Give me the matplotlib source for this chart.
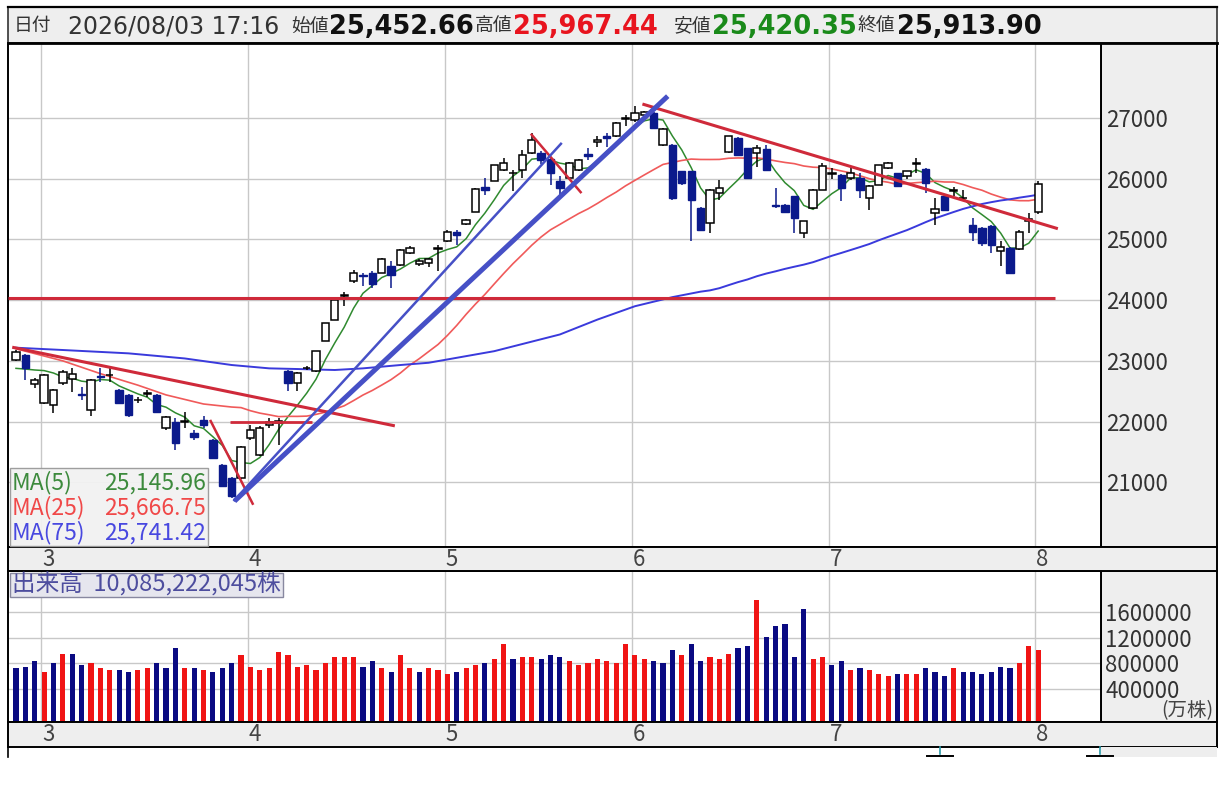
import matplotlib
matplotlib.use("Agg")
import matplotlib.pyplot as plt
from matplotlib.patches import Rectangle
import numpy as np
import pandas as pd

plt.rcParams['font.family'] = ['Noto Sans CJK JP', 'DejaVu Sans']

# ------------------------------------------------------------------ data
opens = [23020, 23100, 22615, 22300, 22275, 22630, 22700, 22460, 22190, 22755,
         22760, 22520, 22440, 22350, 22460, 22440, 21890, 22000, 21990, 21810,
         22030, 21700, 21290, 21070, 21070, 21726, 21453, 21946, 21970, 22832,
         22640, 22880, 22832, 23325, 23681, 24065, 24311, 24420, 24450, 24450,
         24560, 24585, 24780, 24590, 24610, 24840, 24970, 25120, 25260, 25460,
         25870, 25970, 26150, 26090, 26150, 26420, 26420, 26330, 25960, 26010,
         26147, 26400, 26600, 26710, 26696, 26990, 26970, 27050, 27080, 26560,
         26559, 26120, 26120, 25516, 25269, 25763, 26433, 26669, 26504, 26422,
         26488, 25560, 25570, 25708, 25105, 25516, 25818, 26080, 26065, 26010,
         26010, 25681, 25900, 26175, 26092, 26038, 26250, 26158, 25435, 25709,
         25790, 25680, 25243, 25188, 25216, 24805, 24860, 24843, 25298, 25452.66]
highs = [23180, 23120, 22715, 22790, 22530, 22850, 22880, 22575, 22700, 22875,
         22875, 22535, 22450, 22400, 22515, 22450, 22100, 22055, 22165, 21865,
         22085, 21710, 21300, 21080, 21600, 21945, 21920, 22055, 22055, 22850,
         22810, 22920, 23170, 23630, 24020, 24130, 24503, 24450, 24480, 24690,
         24640, 24840, 24900, 24680, 24700, 24910, 25150, 25150, 25340, 25840,
         26010, 26230, 26340, 26150, 26475, 26750, 26450, 26340, 26040, 26270,
         26330, 26500, 26700, 26750, 26930, 27050, 27190, 27120, 27100, 26840,
         26570, 26130, 26130, 25530, 25830, 25983, 26700, 26680, 26510, 26560,
         26560, 25845, 25580, 25720, 25300, 25830, 26260, 26180, 26080, 26200,
         26090, 25890, 26230, 26280, 26100, 26130, 26340, 26170, 25680, 25720,
         25870, 25820, 25353, 25200, 25230, 24969, 24870, 25160, 25435, 25967.44]
lows = [23000, 22690, 22550, 22290, 22140, 22600, 22495, 22360, 22085, 22660,
        22660, 22290, 22080, 22310, 22410, 22160, 21870, 21535, 21890, 21700,
        21890, 21390, 20930, 20740, 21050, 21700, 21440, 21890, 21617, 22500,
        22500, 22850, 22820, 23320, 23670, 23900, 24284, 24230, 24200, 24440,
        24200, 24570, 24760, 24570, 24540, 24476, 24950, 24910, 25240, 25450,
        25740, 25960, 26120, 25790, 26010, 26400, 26250, 25900, 25740, 25990,
        26130, 26310, 26530, 26530, 26690, 26860, 26940, 27030, 26830, 26540,
        25650, 25900, 24967, 25150, 25105, 25650, 26420, 26390, 26000, 26200,
        26140, 25520, 25450, 25105, 25022, 25500, 25810, 25990, 25627, 25980,
        25681, 25490, 25890, 26160, 25860, 26000, 26100, 25763, 25243, 25480,
        25710, 25650, 24969, 24887, 24777, 24558, 24430, 24830, 25106, 25420.35]
closes = [23150, 22877, 22685, 22768, 22521, 22822, 22778, 22440, 22685, 22740,
          22770, 22302, 22110, 22360, 22470, 22165, 22083, 21644, 22010, 21754,
          21946, 21398, 20932, 20767, 21589, 21863, 21891, 22000, 22010, 22640,
          22800, 22890, 23160, 23626, 24010, 24090, 24450, 24390, 24260, 24670,
          24420, 24830, 24860, 24650, 24680, 24860, 25120, 25080, 25325, 25830,
          25810, 26220, 26260, 26100, 26390, 26640, 26300, 26100, 25850, 26257,
          26312, 26370, 26640, 26670, 26916, 27000, 27080, 27100, 26834, 26820,
          25680, 25930, 25653, 25160, 25818, 25845, 26696, 26394, 26010, 26504,
          26147, 25550, 25460, 25352, 25296, 25818, 26202, 26100, 25846, 26100,
          25818, 25873, 26218, 26257, 25873, 26120, 26260, 25928, 25500, 25490,
          25818, 25680, 25117, 24942, 24914, 24870, 24449, 25117, 25340, 25913.90]
volumes = [735000, 745000, 838000, 673000, 807000, 946000, 946000, 776000, 807000, 735000,
           704000, 704000, 673000, 704000, 735000, 807000, 735000, 1038000, 735000, 735000,
           704000, 673000, 735000, 807000, 930000, 750000, 704000, 735000, 977000, 930000,
           750000, 776000, 704000, 807000, 899000, 899000, 899000, 750000, 838000, 735000,
           673000, 930000, 735000, 673000, 735000, 704000, 642000, 673000, 735000, 776000,
           807000, 868000, 1100000, 868000, 899000, 899000, 868000, 930000, 899000, 838000,
           776000, 807000, 868000, 838000, 807000, 1100000, 930000, 868000, 838000, 807000,
           1008000, 930000, 1100000, 838000, 899000, 868000, 946000, 1038000, 1069000, 1779000,
           1208000, 1378000, 1409000, 899000, 1641000, 868000, 899000, 776000, 838000, 704000,
           735000, 704000, 642000, 611000, 642000, 642000, 642000, 735000, 673000, 611000,
           735000, 673000, 673000, 642000, 673000, 745000, 735000, 807000, 1069000, 1008522]
prev_close = 23250            # close before the first visible bar

month_labels = ['3', '4', '5', '6', '7', '8']
month_start = [3, 25, 46, 66, 87, 109]
price_ticks = [21000, 22000, 23000, 24000, 25000, 26000, 27000]
vol_ticks = [400000, 800000, 1200000, 1600000]

header_date = '2026/08/03 17:16'
header_names = ['始値', '高値', '安値', '終値']
ma_names = ['MA(5)', 'MA(25)', 'MA(75)']
ma_label_values = [25145.96, 25666.75, 25741.42]
volume_shares = 10085222045

ma5_head = [22877, 22865, 22850, 22840]
ma25_head_idx = [0, 5, 9, 13, 16, 20, 23]
ma25_head_val = [23200, 23000, 22790, 22600, 22440, 22290, 22240]
ma75_head_idx = [0, 5, 12, 18, 23, 27, 30, 34, 37, 41, 44, 51, 58, 62, 66, 70, 73]
ma75_head_val = [23217, 23179, 23124, 23040, 22932, 22877, 22866, 22850, 22877,
                 22932, 22969, 23160, 23435, 23680, 23900, 24050, 24140]

# hand-drawn trend lines (bar index, price) -> (bar index, price)
red_lines = [(-0.4, 23225, 40.4, 21930),
             (22.8, 21990, 31.6, 21990),
             (20.7, 22028, 25.3, 20630),
             (54.9, 26740, 60.3, 25763),
             (66.8, 27230, 111.1, 25177),
             (-0.85, 24040, 110.8, 24040)]
blue_lines = [(23.2, 20690, 58.2, 26590),
              (23.3, 20690, 69.5, 27360)]

# ------------------------------------------------------------------ style
W, H = 1228, 787
red_widths = [2.2, 2.0, 1.8, 1.8, 2.2, 2.2]
blue_widths = [1.8, 3.6]
RED_T = '#cf2a3a'
BLUE_T = '#4650c6'
NAVY = '#0b1a8c'
VRED = '#f01414'
VNAVY = '#0a0a82'
GRID = '#c8c8c8'
PANEL = '#eeeeee'
hdr_label_x = [291, 475, 674, 858]
hdr_value_x = [329, 513, 712, 897]
hdr_value_col = ['#111111', '#e8141e', '#1a8a1a', '#111111']

n = len(closes)
x = np.arange(n)
O = np.array(opens); Hh = np.array(highs); L = np.array(lows); C = np.array(closes)
V = np.array(volumes)

fig = plt.figure(figsize=(W / 100, H / 100), dpi=100)
fig.patch.set_facecolor('white')


def fr(x0, y0, x1, y1):
    return [x0 / W, 1 - y1 / H, (x1 - x0) / W, (y1 - y0) / H]


XL = (-0.85, 115.7)
grid_x = [m - 0.3 for m in month_start]

# ------------------------------------------------------------------ price panel
ax = fig.add_axes(fr(8, 43, 1101, 547))
ax.set_xlim(*XL)
ax.set_ylim(19935, 28235)
for p in price_ticks:
    ax.axhline(p, color=GRID, lw=1.0, zorder=0)
for g in grid_x:
    ax.axvline(g, color=GRID, lw=1.0, zorder=0)

s = pd.Series(C)
ma5 = s.rolling(5).mean().to_numpy()
ma25 = s.rolling(25).mean().to_numpy()
ma75 = s.rolling(75).mean().to_numpy()
ax.plot(list(range(4)) + list(x[4:]), ma5_head + list(ma5[4:]), color='#2f8a2f', lw=1.1, zorder=2)
ax.plot(ma25_head_idx + list(x[24:]), ma25_head_val + list(ma25[24:]), color='#f05a5a', lw=1.2, zorder=2)
ax.plot(ma75_head_idx + list(x[74:]), ma75_head_val + list(ma75[74:]), color='#3a3adc', lw=1.4, zorder=2)

up = C >= O
dn = ~up
bw = 0.78
ax.vlines(x[up], L[up], Hh[up], color='black', lw=1.1, zorder=3)
ax.vlines(x[dn], L[dn], Hh[dn], color=NAVY, lw=1.1, zorder=3)
ax.bar(x[up], C[up] - O[up], bottom=O[up], width=bw, color='white', edgecolor='black', linewidth=1.1, zorder=4)
ax.bar(x[dn], O[dn] - C[dn], bottom=C[dn], width=bw, color=NAVY, edgecolor=NAVY, linewidth=1.0, zorder=4)

for (i0, p0, i1, p1), lw in zip(red_lines, red_widths):
    ax.plot([i0, i1], [p0, p1], color=RED_T, lw=lw, solid_capstyle='butt', zorder=6)
for (i0, p0, i1, p1), lw in zip(blue_lines, blue_widths):
    ax.plot([i0, i1], [p0, p1], color=BLUE_T, lw=lw, solid_capstyle='butt', zorder=6)

ax.set_xticks([])
ax.yaxis.tick_right()
ax.set_yticks(price_ticks)
ax.set_yticklabels([str(p) for p in price_ticks], fontsize=16, color='#333333')
ax.tick_params(axis='y', length=0, pad=4)
for sp in ax.spines.values():
    sp.set_color('black'); sp.set_linewidth(1.4)

# ------------------------------------------------------------------ volume panel
axv = fig.add_axes(fr(8, 571, 1101, 722))
axv.set_xlim(*XL)
vb = -107000
axv.set_ylim(vb, 2229000)
for v in vol_ticks:
    axv.axhline(v, color=GRID, lw=1.0, zorder=0)
for g in grid_x:
    axv.axvline(g, color=GRID, lw=1.0, zorder=0)
prev = np.concatenate([[prev_close], C[:-1]])
vup = C > prev
axv.bar(x[vup], V[vup] - vb, bottom=vb, width=0.55, color=VRED, zorder=3)
axv.bar(x[~vup], V[~vup] - vb, bottom=vb, width=0.55, color=VNAVY, zorder=3)
axv.set_xticks([])
axv.yaxis.tick_right()
axv.set_yticks(vol_ticks)
axv.set_yticklabels([str(v) for v in vol_ticks], fontsize=16, color='#333333')
axv.tick_params(axis='y', length=0, pad=3)
for sp in axv.spines.values():
    sp.set_color('black'); sp.set_linewidth(1.4)

# ------------------------------------------------------------------ overlay (pixel coords)
ov = fig.add_axes([0, 0, 1, 1], zorder=10)
ov.set_xlim(0, W)
ov.set_ylim(H, 0)
ov.axis('off')

for (y0, y1) in [(43, 547), (571, 722)]:
    fig.patches.append(Rectangle((1101 / W, 1 - y1 / H), 116 / W, (y1 - y0) / H,
                                 transform=fig.transFigure, facecolor=PANEL,
                                 edgecolor='black', lw=1.4, zorder=-1))

ov.add_patch(Rectangle((8, 7), 1209, 36, facecolor=PANEL, edgecolor='#333333', lw=1.2))
ov.plot([8, 1217], [7, 7], color='black', lw=1.6)
ov.plot([8, 1217], [43, 43], color='black', lw=2.0)

for (y0, y1) in [(547, 571), (722, 747)]:
    ov.add_patch(Rectangle((8, y0), 1209, y1 - y0, facecolor=PANEL, edgecolor='black', lw=1.4))

px_per_bar = 1093 / (XL[1] - XL[0])
for lab, m in zip(month_labels, month_start):
    xp = 8 + (m + 0.45 - XL[0]) * px_per_bar
    ov.text(xp, 559, lab, fontsize=16, color='#444444', ha='center', va='center')
    ov.text(xp, 734.5, lab, fontsize=16, color='#444444', ha='center', va='center')

ov.plot([8, 8], [747, 757], color='black', lw=1.2)
ov.add_patch(Rectangle((1101, 747), 116, 10, facecolor=PANEL, edgecolor='none'))
for xc in [940, 1100]:
    ov.plot([xc, xc], [747, 754], color='#2a9aa8', lw=1.2)
    ov.plot([xc - 13, xc + 13], [755.5, 755.5], color='black', lw=1.4)

# header text
hy = 26
ov.text(14, hy, '日付', fontsize=13.5, color='#333333', ha='left', va='center')
ov.text(68, hy, header_date, fontsize=17, color='#333333', ha='left', va='center',
        family=['DejaVu Sans'])
hdr_vals = [opens[-1], highs[-1], lows[-1], closes[-1]]
for nm, lx, val, vx, col in zip(header_names, hdr_label_x, hdr_vals, hdr_value_x, hdr_value_col):
    ov.text(lx, hy, nm, fontsize=13.5, color='#333333', ha='left', va='center')
    ov.text(vx, hy + 0.5, f'{val:,.2f}', fontsize=18.5, fontweight='bold', color=col,
            ha='left', va='center', family=['DejaVu Sans'])

ov.add_patch(Rectangle((10, 468), 198, 78, facecolor='#f2f2f2', edgecolor='#999999', lw=1.0, alpha=0.95))
ma_cols = ['#3c8a3c', '#f04848', '#4848e0']
for k, (nm, val, col) in enumerate(zip(ma_names, ma_label_values, ma_cols)):
    yy = 483 + 25 * k
    ov.text(12, yy, nm, fontsize=16.5, color=col, ha='left', va='center')
    ov.text(206, yy, f'{val:,.2f}', fontsize=16.5, color=col, ha='right', va='center')

ov.add_patch(Rectangle((10, 573), 273, 24, facecolor='#e6e6ee', edgecolor='#8888a0', lw=1.0))
ov.text(12, 585, f'出来高  {volume_shares:,}株', fontsize=17, color='#4d4d9e', ha='left', va='center')
ov.text(1213, 711, '(万株)', fontsize=14, color='#444444', ha='right', va='center')

fig.savefig('out.png', dpi=100)
